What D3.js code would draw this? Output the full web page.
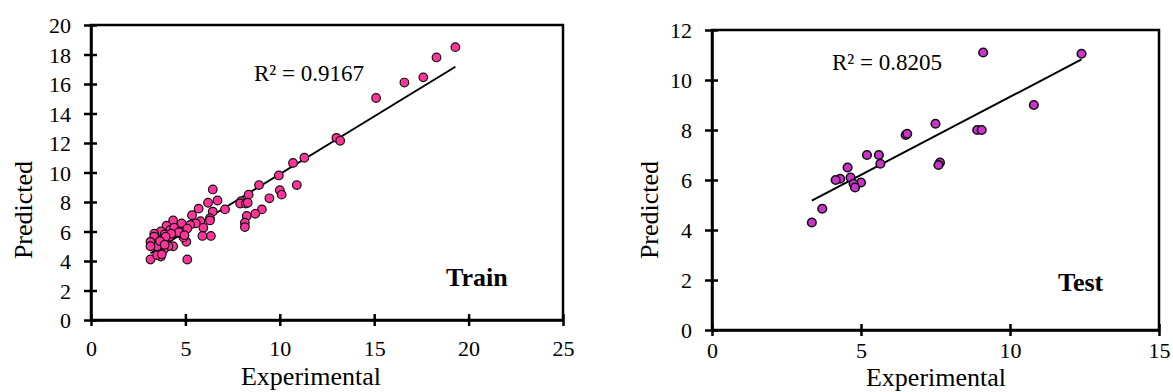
<!DOCTYPE html>
<html>
<head>
<meta charset="utf-8">
<script src="https://cdn.jsdelivr.net/npm/d3@7"></script>
<style>
  html, body { margin: 0; padding: 0; background: #fff; }
  svg { display: block; }
  svg text { font-family: "Liberation Serif", "Times New Roman", serif; fill: #000; }
</style>
</head>
<body>
<svg id="chart" width="1173" height="392"></svg>
<script>
// Train set
const trainExperimental = [19.3, 18.3, 17.6, 16.6, 15.1, 13.0, 13.2, 11.3, 10.7, 9.95, 10.9, 10.0, 10.1, 9.45, 8.9, 9.05, 8.7, 8.35, 8.25, 8.15, 8.15, 7.95, 7.9, 8.2, 8.3, 7.1, 6.7, 6.45, 6.2, 6.45, 6.3, 6.3, 6.35, 5.7, 5.35, 5.8, 5.95, 5.9, 5.55, 5.25, 5.1, 5.05, 4.8, 4.75, 5.1, 4.9, 4.35, 4.45, 4.6, 4.35, 4.0, 4.15, 4.1, 3.85, 3.7, 3.65, 3.75, 3.7, 3.5, 3.35, 3.35, 3.15, 3.15, 3.15, 4.2, 3.9, 4.4, 4.65, 4.25, 3.95, 3.65, 3.9, 3.5, 3.75, 4.95];
const trainPredicted = [18.5, 17.8, 16.45, 16.1, 15.05, 12.35, 12.15, 11.0, 10.65, 9.8, 9.15, 8.8, 8.5, 8.25, 9.15, 7.5, 7.2, 8.5, 7.05, 6.6, 6.3, 8.05, 7.9, 7.9, 7.95, 7.5, 8.1, 8.85, 7.95, 7.35, 6.9, 6.75, 5.7, 7.55, 7.1, 6.7, 6.25, 5.7, 6.55, 6.45, 4.1, 5.3, 6.55, 6.0, 6.2, 5.6, 6.75, 6.0, 5.9, 5.0, 6.4, 5.65, 5.0, 4.8, 4.3, 4.55, 5.55, 6.0, 5.0, 5.85, 5.65, 5.3, 5.0, 4.1, 6.1, 5.8, 6.25, 5.95, 5.85, 5.65, 5.35, 5.1, 4.4, 4.45, 5.75];

// Test set
const testExperimental = [9.1, 12.4, 10.8, 8.9, 9.05, 7.5, 6.5, 6.55, 7.65, 7.6, 5.6, 5.2, 5.65, 4.55, 4.65, 4.3, 4.15, 5.0, 4.75, 4.8, 3.7, 3.35];
const testPredicted = [11.1, 11.05, 9.0, 8.0, 8.0, 8.25, 7.8, 7.85, 6.7, 6.6, 7.0, 7.0, 6.65, 6.5, 6.1, 6.05, 6.0, 5.9, 5.85, 5.7, 4.85, 4.3];

const trainXTicks = [0, 5, 10, 15, 20, 25];
const trainYTicks = [0, 2, 4, 6, 8, 10, 12, 14, 16, 18, 20];
const testXTicks = [0, 5, 10, 15];
const testYTicks = [0, 2, 4, 6, 8, 10, 12];

const svg = d3.select('#chart');
const serif = '"Liberation Serif", "Times New Roman", serif';

// least squares fit, as the spreadsheet trendline does
function fitLine(xs, ys) {
  const mx = d3.mean(xs), my = d3.mean(ys);
  let sxy = 0, sxx = 0;
  xs.forEach((x, i) => { sxy += (x - mx) * (ys[i] - my); sxx += (x - mx) * (x - mx); });
  const slope = sxy / sxx;
  return { slope, intercept: my - slope * mx };
}

function drawPanel(p) {
  const x = d3.scaleLinear().domain([0, d3.max(p.xTicks)]).range([p.left, p.right]);
  const y = d3.scaleLinear().domain([0, d3.max(p.yTicks)]).range([p.bottom, p.top]);
  const g = svg.append('g');

  // frame
  g.append('rect')
    .attr('x', p.left).attr('y', p.top)
    .attr('width', p.right - p.left).attr('height', p.bottom - p.top)
    .attr('fill', 'none').attr('stroke', '#000').attr('stroke-width', 2.5);

  const xAxis = g.append('g')
    .attr('transform', `translate(0,${p.bottom})`)
    .call(d3.axisBottom(x).tickValues(p.xTicks).tickSizeOuter(0).tickPadding(p.xPad));
  xAxis.selectAll('line').attr('y1', -6).attr('y2', 6);

  const yAxis = g.append('g')
    .attr('transform', `translate(${p.left},0)`)
    .call(d3.axisLeft(y).tickValues(p.yTicks).tickSizeOuter(0).tickPadding(14));
  yAxis.selectAll('line').attr('x1', 6).attr('x2', -7);

  [xAxis, yAxis].forEach(a => {
    a.attr('font-family', serif).attr('font-size', 22);
    a.select('.domain').attr('stroke-width', 2.5);
    a.selectAll('line').attr('stroke-width', 2.5);
    a.selectAll('text').style('font-family', serif).style('font-size', '22px').attr('fill', '#000');
  });
  yAxis.selectAll('text').attr('dy', '0.35em');

  // trendline
  const fit = fitLine(p.xs, p.ys);
  const ext = d3.extent(p.xs);
  g.append('line')
    .attr('x1', x(ext[0])).attr('y1', y(fit.slope * ext[0] + fit.intercept))
    .attr('x2', x(ext[1])).attr('y2', y(fit.slope * ext[1] + fit.intercept))
    .attr('stroke', '#000').attr('stroke-width', 2);

  g.selectAll('circle.pt')
    .data(p.xs.map((v, i) => [v, p.ys[i]]))
    .enter().append('circle')
    .attr('class', 'pt')
    .attr('cx', d => x(d[0]))
    .attr('cy', d => y(d[1]))
    .attr('r', 4.3)
    .attr('fill', p.color)
    .attr('stroke', '#111')
    .attr('stroke-width', p.ptStroke);

  g.append('text')
    .attr('x', p.r2x).attr('y', p.r2y)
    .style('font-size', '23px')
    .text(p.r2);

  g.append('text')
    .attr('x', p.tagX).attr('y', p.tagY)
    .style('font-size', '26px').style('font-weight', 'bold')
    .text(p.tag);

  g.append('text')
    .attr('x', p.xTitleX).attr('y', p.xTitleY)
    .attr('text-anchor', 'middle').style('font-size', '26px')
    .text('Experimental');

  g.append('text')
    .attr('transform', `translate(${p.yTitleX},${p.yTitleY}) rotate(-90)`)
    .attr('text-anchor', 'middle').style('font-size', '26px')
    .text('Predicted');
}

drawPanel({
  left: 91, right: 563, top: 25, bottom: 320,
  xTicks: trainXTicks, yTicks: trainYTicks, xPad: 14,
  xs: trainExperimental, ys: trainPredicted, color: '#ff3399', ptStroke: 1.2,
  r2: 'R² = 0.9167', r2x: 254, r2y: 81,
  tag: 'Train', tagX: 446, tagY: 286,
  xTitleX: 311, xTitleY: 385, yTitleX: 32, yTitleY: 210
});

drawPanel({
  left: 712, right: 1159, top: 30, bottom: 330,
  xTicks: testXTicks, yTicks: testYTicks, xPad: 6,
  xs: testExperimental, ys: testPredicted, color: '#cc33cc', ptStroke: 1.6,
  r2: 'R² = 0.8205', r2x: 832, r2y: 70,
  tag: 'Test', tagX: 1058, tagY: 291,
  xTitleX: 936, xTitleY: 386, yTitleX: 658, yTitleY: 210
});
</script>
</body>
</html>
